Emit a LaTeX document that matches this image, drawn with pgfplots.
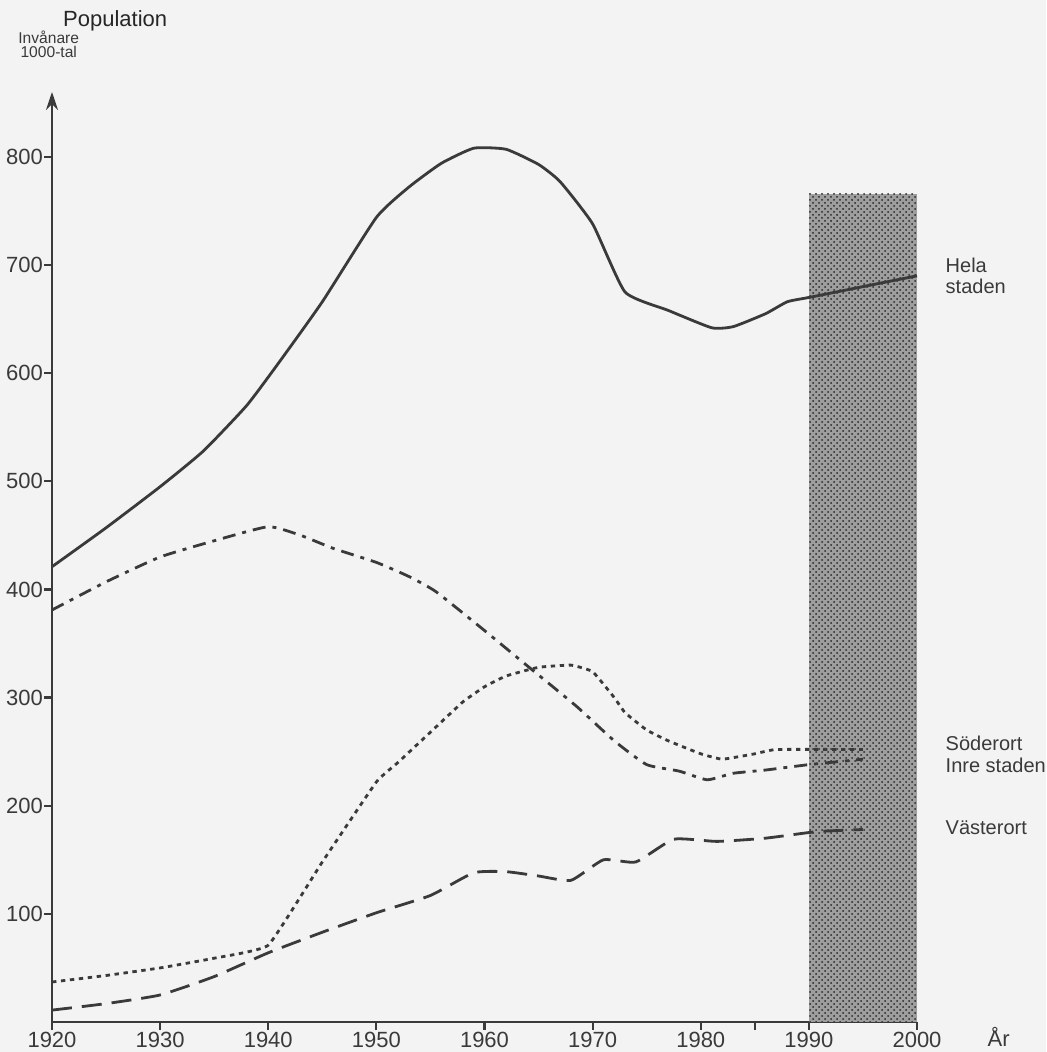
\documentclass[border=0pt]{standalone}
\usepackage{fontspec}
\setmainfont{Liberation Sans}
\usepackage{pgfplots}
\pgfplotsset{compat=1.18}
\usetikzlibrary{calc,backgrounds,arrows.meta,patterns}

\definecolor{ink}{HTML}{3A3A3A}
\definecolor{paper}{HTML}{F3F3F3}

\begin{document}
\begin{tikzpicture}
\begin{axis}[
    name=ax,
    scale only axis,
    width=432.5pt,
    height=465pt,
    xmin=1920, xmax=2000,
    ymin=0, ymax=860,
    axis x line=bottom,
    axis y line=left,
    x axis line style={-, line width=1.3pt, ink},
    y axis line style={-{Stealth[length=9pt,width=6pt]}, line width=1.3pt, ink},
    xtick={1920,1930,...,2000},
    extra x ticks={1985},
    extra x tick labels={},
    ytick={100,200,...,800},
    tick align=outside,
    major tick length=4pt,
    tick style={line width=1.1pt, ink},
    /pgf/number format/1000 sep={},
    /pgf/number format/assume math mode=true,
    ticklabel style={font=\fontsize{11}{12}\selectfont, text=ink},
    xticklabel style={yshift=2.5pt},
    yticklabel style={xshift=3pt},
    clip=false,
]
% prognosis period 1990-2000 (shaded)
\addplot[draw=none, fill=black!38] coordinates {
    (1990,0) (1990,766) (2000,766) (2000,0)
} -- cycle;
\addplot[draw=none, pattern=crosshatch dots, pattern color=black!85] coordinates {
    (1990,0) (1990,766) (2000,766) (2000,0)
} -- cycle;

% Hela staden
\addplot[ink, line width=1.4pt, line join=round, smooth, tension=0.3] coordinates {
    (1920,421) (1925,457) (1930,495) (1934,528) (1938,570) (1941,610)
    (1945,666) (1950,744) (1953,772) (1956,794) (1959,808) (1962,807)
    (1965,793) (1967,777) (1970,738) (1973,675) (1977,658) (1981,642)
    (1983,643) (1986,655) (1988,666) (1990,670) (1995,680) (2000,690)
};

% Inre staden
\addplot[ink, line width=1.4pt, dash pattern=on 6.5pt off 3.5pt on 2pt off 3.5pt, smooth, tension=0.3] coordinates {
    (1920,381) (1925,407) (1930,430) (1935,445) (1940,458) (1943,450)
    (1946,438) (1950,425) (1953,412) (1955.5,398) (1960,362) (1964,329)
    (1968.5,292) (1972,260) (1975,238) (1978,232) (1980.6,224) (1983,230)
    (1986,233) (1990,238) (1995,243)
};

% Soderort
\addplot[ink, line width=1.4pt, dash pattern=on 2.2pt off 2.3pt, smooth, tension=0.2] coordinates {
    (1920,37) (1925,43) (1930,50) (1935,59) (1940,71)
    (1945,148) (1950,222) (1952,240) (1955,268) (1958,296)
    (1960,310) (1962,320) (1965,328) (1968,330) (1970,324) (1972,300)
    (1973,286) (1975,270) (1977,260) (1980,248) (1982,243) (1985,248)
    (1987,252) (1995,252)
};

% Vasterort
\addplot[ink, line width=1.4pt, dash pattern=on 10pt off 5pt, smooth, tension=0.3] coordinates {
    (1920,11) (1925,17) (1930,25) (1935,42) (1940,64) (1945,83)
    (1950,101) (1955,117) (1959,138) (1962,139) (1965,135) (1968,131)
    (1971,150) (1974,148) (1977.5,169) (1981.5,167) (1986,170)
    (1990.7,176) (1995,178)
};

\node[anchor=west, align=left, text=ink, font=\fontsize{10}{10.5}\selectfont]
    at (axis cs:2002,690) {Hela\\staden};
\node[anchor=west, text=ink, font=\fontsize{10}{11}\selectfont] at (axis cs:2002,258) {Söderort};
\node[anchor=west, text=ink, font=\fontsize{10}{11}\selectfont] at (axis cs:2002,237) {Inre staden};
\node[anchor=west, text=ink, font=\fontsize{10}{11}\selectfont] at (axis cs:2002,180) {Västerort};
\node[anchor=base west, text=ink, font=\fontsize{11}{12}\selectfont, inner sep=0pt]
    at (axis cs:2006.5,0) [yshift=-12.5pt] {År};

\node[anchor=south, align=center, text=ink, font=\fontsize{7.8}{7}\selectfont, inner sep=0pt]
    at (axis cs:1919.7,860) [yshift=17pt] {Invånare\\1000-tal};
\node[anchor=base west, text=black!85, font=\fontsize{11}{12}\selectfont, inner sep=0pt]
    at (axis cs:1921,860) [yshift=32.5pt] {Population};
\end{axis}
\pgfresetboundingbox
\path[use as bounding box] ($(ax.south west)+(-26pt,-15pt)$) rectangle ($(ax.south west)+(497pt,511pt)$);
\begin{scope}[on background layer]
\fill[paper] ($(ax.south west)+(-26pt,-15pt)$) rectangle ($(ax.south west)+(497pt,511pt)$);
\end{scope}
\end{tikzpicture}
\end{document}
